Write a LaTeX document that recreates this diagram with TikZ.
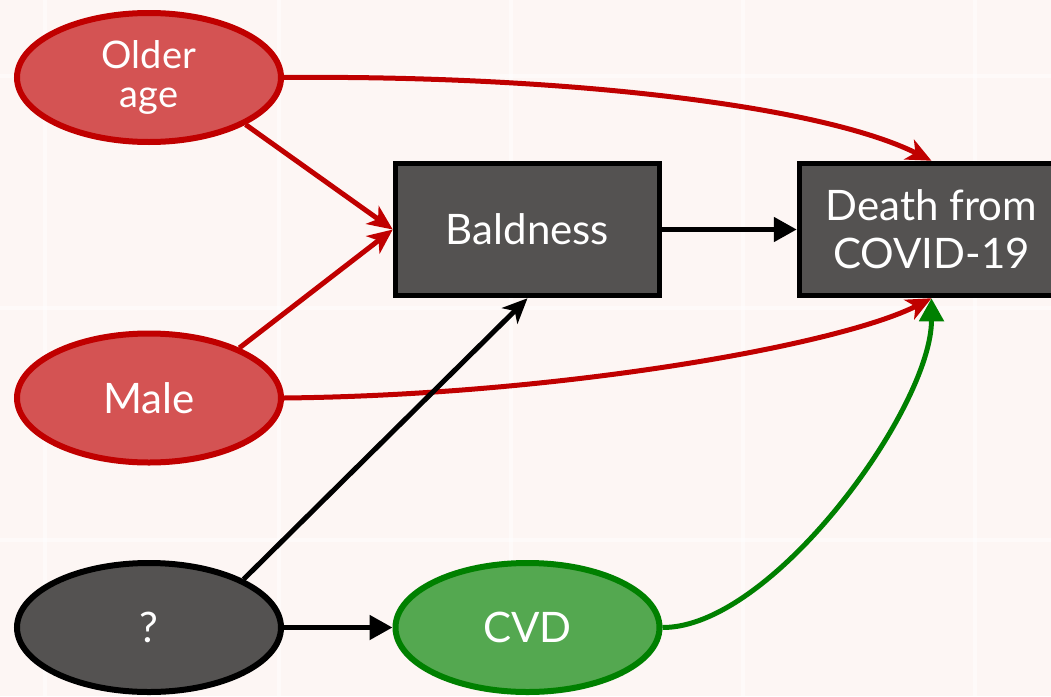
\documentclass[tikz,border=0pt]{standalone}
\usepackage{fontspec}
\setmainfont{Lato}
\usetikzlibrary{arrows.meta,shapes.geometric}

\definecolor{bgpink}{RGB}{253,246,244}
\definecolor{redline}{RGB}{192,0,0}
\definecolor{redfill}{RGB}{212,83,83}
\definecolor{greenline}{RGB}{0,128,0}
\definecolor{greenfill}{RGB}{84,168,80}
\definecolor{darkfill}{RGB}{84,82,81}

\tikzset{
  every node/.style={text=white, align=center, font=\fontsize{42}{48}\selectfont},
  oval/.style={ellipse, line width=6pt, minimum width=264pt, minimum height=129pt, inner sep=0pt},
  redoval/.style={oval, draw=redline, fill=redfill},
  greenoval/.style={oval, draw=greenline, fill=greenfill},
  darkoval/.style={oval, draw=black, fill=darkfill},
  darkbox/.style={rectangle, line width=5.5pt, draw=black, fill=darkfill, minimum width=264pt, minimum height=132pt, inner sep=0pt},
  link/.style={line width=5pt},
  notched/.style={link, -{Stealth[length=25pt,width=22pt,inset=7pt]}},
  plain/.style={link, -{Triangle[length=23pt,width=24pt]}},
  gridline/.style={white, line width=4pt, opacity=0.5}
}

\begin{document}
\begin{tikzpicture}[x=1pt,y=-1pt]
  \clip (0,0) rectangle (1051,696);
  % backdrop with a faint tile grid
  \fill[bgpink] (0,0) rectangle (1051,696);
  \foreach \gx in {45,279,511,743,975} \draw[gridline] (\gx,0) -- (\gx,696);
  \foreach \gy in {76,308,540} \draw[gridline] (0,\gy) -- (1051,\gy);

  % nodes
  \node[redoval, font=\fontsize{38}{39}\selectfont] (older) at (149,77.5) {Older\\age};
  \node[redoval] (male) at (149,398) {Male};
  \node[darkoval] (unknown) at (149,627.5) {?};
  \node[greenoval] (cvd) at (527.5,627.5) {CVD};
  \node[darkbox] (bald) at (527.5,229.5) {Baldness};
  \node[darkbox] (death) at (931.5,229.5) {Death from\\COVID-19};

  % connectors
  \draw[notched, redline] (older.-26) -- (bald.west);
  \draw[notched, redline] (male.29) -- (bald.west);
  \draw[notched, redline] (older.east) .. controls (560,75) and (820,105) .. (death.north);
  \draw[notched, redline] (male.east) .. controls (560,395) and (840,345) .. (death.south);
  \draw[notched, black] (unknown.27) -- (bald.south);
  \draw[plain, black] (bald.east) -- (death.west);
  \draw[plain, black] (unknown.east) -- (cvd.west);
  \draw[plain, greenline] (cvd.east) .. controls (772,628) and (931.5,408) .. (death.south);
\end{tikzpicture}
\end{document}
